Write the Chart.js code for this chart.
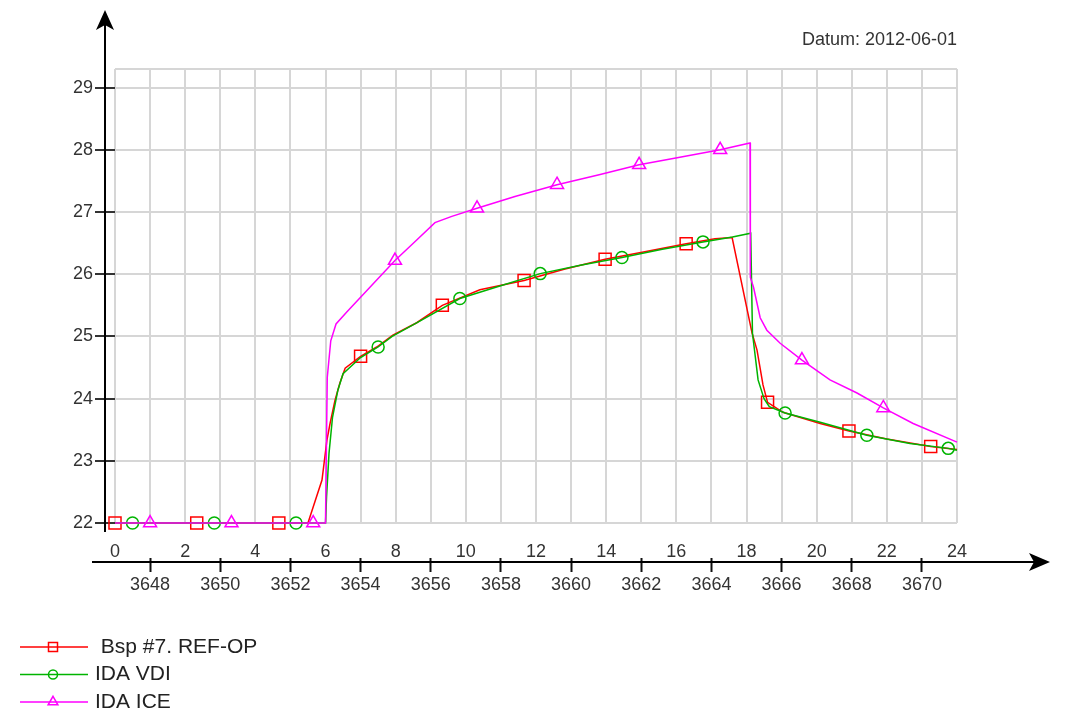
<!DOCTYPE html>
<html>
<head>
<meta charset="utf-8">
<title>Datum 2012-06-01</title>
<script src="https://cdn.jsdelivr.net/npm/chart.js@4.4.1/dist/chart.umd.min.js"></script>
<style>
  html, body { margin: 0; padding: 0; background: #fff; }
  #wrap { width: 1079px; height: 713px; }
</style>
</head>
<body>
<div id="wrap"><canvas id="chart" width="1079" height="713"></canvas></div>
<script>
// hour of day -> room temperature (degC)
const refHours = [0, 2.33, 4.67, 5.5, 5.9, 6.04, 6.13, 6.27, 6.41, 6.56, 7.0, 7.46, 7.92, 8.6, 9.33, 10.4, 11.66, 12.8, 13.97, 15.1, 16.28, 17.1, 17.59, 18.16, 18.3, 18.47, 18.6, 19.04, 20.1, 20.92, 22.0, 23.25, 24];
const refTemps = [22, 22, 22, 22, 22.69, 23.33, 23.6, 23.97, 24.25, 24.49, 24.68, 24.83, 25.02, 25.22, 25.5, 25.75, 25.9, 26.08, 26.24, 26.36, 26.49, 26.57, 26.59, 25.05, 24.78, 24.22, 23.94, 23.78, 23.6, 23.48, 23.35, 23.23, 23.18];
const refMarks = [0, 2.33, 4.67, 7.0, 9.33, 11.66, 13.97, 16.28, 18.6, 20.92, 23.25];

const vdiHours = [0, 0.5, 2.83, 5.16, 6.0, 6.03, 6.1, 6.2, 6.35, 6.5, 7.0, 7.5, 7.9, 8.7, 9.83, 10.9, 12.12, 13.3, 14.45, 15.6, 16.76, 17.6, 18.12, 18.17, 18.33, 18.5, 18.65, 19.1, 20.1, 21.43, 22.66, 23.75, 24];
const vdiTemps = [22, 22, 22, 22, 22, 22.42, 23.12, 23.7, 24.13, 24.4, 24.66, 24.83, 25.0, 25.25, 25.61, 25.8, 26.01, 26.15, 26.27, 26.4, 26.52, 26.6, 26.66, 25.05, 24.3, 24.0, 23.87, 23.77, 23.62, 23.41, 23.28, 23.2, 23.17];
const vdiMarks = [0.5, 2.83, 5.16, 7.5, 9.83, 12.12, 14.45, 16.76, 19.1, 21.43, 23.75];

const iceHours = [0, 1.0, 3.32, 5.65, 6.0, 6.05, 6.15, 6.3, 6.6, 7.18, 7.98, 8.6, 9.12, 9.6, 10.32, 11.4, 12.6, 13.8, 14.94, 16.1, 17.25, 18.1, 18.11, 18.2, 18.39, 18.58, 18.96, 19.58, 20.38, 21.15, 21.9, 22.75, 24];
const iceTemps = [22, 22, 22, 22, 22, 24.34, 24.93, 25.2, 25.39, 25.74, 26.22, 26.55, 26.83, 26.93, 27.06, 27.25, 27.44, 27.6, 27.76, 27.88, 28.0, 28.11, 25.95, 25.79, 25.3, 25.1, 24.89, 24.62, 24.3, 24.09, 23.85, 23.6, 23.3];
const iceMarks = [1.0, 3.32, 5.65, 7.98, 10.32, 12.6, 14.94, 17.25, 19.58, 21.9];

const seriesNames = [' Bsp #7. REF-OP', 'IDA VDI', 'IDA ICE'];
const yTicks = [22, 23, 24, 25, 26, 27, 28, 29];
const dayLabels = [0, 2, 4, 6, 8, 10, 12, 14, 16, 18, 20, 22, 24];
const yearHourLabels = [3648, 3650, 3652, 3654, 3656, 3658, 3660, 3662, 3664, 3666, 3668, 3670];
const dateText = 'Datum: 2012-06-01';

const gridColor = '#d6d6d6';
const textColor = '#333';
const font = 'Liberation Sans, Arial, sans-serif';

function toPoints(hours, temps) {
    return hours.map((h, i) => ({ x: h, y: temps[i] }));
}

function makeSeries(label, hours, temps, marks, color, style, radius, order) {
    return {
        label: label,
        data: toPoints(hours, temps),
        borderColor: color,
        backgroundColor: 'rgba(0,0,0,0)',
        borderWidth: 1.5,
        tension: 0,
        pointStyle: style,
        pointRadius: ctx => marks.includes(ctx.raw.x) ? radius : 0,
        pointHoverRadius: ctx => marks.includes(ctx.raw.x) ? radius : 0,
        pointBorderWidth: 1.5,
        pointBorderColor: color,
        pointBackgroundColor: 'rgba(0,0,0,0)',
        clip: false,
        order: order,
        legendRadius: radius * 0.75,
    };
}

// axes arrows, top border of the grid and the legend at bottom left
const plotDecor = {
    id: 'plotDecor',
    beforeDatasetsDraw(chart) {
        const { ctx, chartArea: a } = chart;
        ctx.save();
        ctx.strokeStyle = gridColor;
        ctx.lineWidth = 2;
        ctx.beginPath();
        ctx.moveTo(a.left, a.top);
        ctx.lineTo(a.right, a.top);
        ctx.stroke();
        ctx.restore();
    },
    afterDraw(chart) {
        const { ctx, chartArea: a, scales } = chart;
        ctx.save();
        ctx.strokeStyle = '#000';
        ctx.fillStyle = '#000';
        ctx.lineWidth = 2;

        // y axis
        const ax = a.left - 10;
        ctx.beginPath();
        ctx.moveTo(ax, 20);
        ctx.lineTo(ax, a.bottom + 9);
        ctx.stroke();
        ctx.beginPath();
        ctx.moveTo(ax, 10);
        ctx.lineTo(ax - 9, 30);
        ctx.lineTo(ax, 25);
        ctx.lineTo(ax + 9, 30);
        ctx.closePath();
        ctx.fill();

        // x axis
        const ay = scales.x2.top + 4;
        ctx.beginPath();
        ctx.moveTo(92, ay);
        ctx.lineTo(1040, ay);
        ctx.stroke();
        ctx.beginPath();
        ctx.moveTo(1050, ay);
        ctx.lineTo(1029, ay - 9);
        ctx.lineTo(1034, ay);
        ctx.lineTo(1029, ay + 9);
        ctx.closePath();
        ctx.fill();

        // legend
        ctx.font = '21px ' + font;
        ctx.textBaseline = 'middle';
        chart.data.datasets.forEach((ds, i) => {
            const y = 647 + i * 27.5;
            ctx.strokeStyle = ds.borderColor;
            ctx.lineWidth = 1.5;
            ctx.beginPath();
            ctx.moveTo(20, y);
            ctx.lineTo(88, y);
            ctx.stroke();
            drawMarker(ctx, ds.pointStyle, 53, y, ds.legendRadius);
            ctx.fillStyle = '#222';
            ctx.fillText(ds.label, 95, y);
        });
        ctx.restore();
    }
};

function drawMarker(ctx, style, x, y, r) {
    ctx.beginPath();
    if (style === 'rect') {
        const s = r * Math.SQRT1_2;
        ctx.rect(x - s, y - s, 2 * s, 2 * s);
    } else if (style === 'circle') {
        ctx.arc(x, y, r, 0, Math.PI * 2);
    } else {
        ctx.moveTo(x, y - r);
        ctx.lineTo(x + r * 0.866, y + r * 0.5);
        ctx.lineTo(x - r * 0.866, y + r * 0.5);
        ctx.closePath();
    }
    ctx.stroke();
}

const ctx = document.getElementById('chart').getContext('2d');
new Chart(ctx, {
    type: 'line',
    data: {
        datasets: [
            makeSeries(seriesNames[0], refHours, refTemps, refMarks, '#ff0000', 'rect', 8.5, 3),
            makeSeries(seriesNames[1], vdiHours, vdiTemps, vdiMarks, '#00b400', 'circle', 6, 2),
            makeSeries(seriesNames[2], iceHours, iceTemps, iceMarks, '#ff00ff', 'triangle', 7.5, 1),
        ],
    },
    options: {
        responsive: false,
        animation: false,
        events: [],
        layout: { padding: { left: 0, right: 122, top: 0, bottom: 111 } },
        plugins: {
            legend: { display: false },
            tooltip: { enabled: false },
            title: {
                display: true,
                text: dateText,
                align: 'end',
                color: textColor,
                font: { family: font, size: 18, weight: 'normal' },
                padding: { top: 29, bottom: 18.4 },
            },
        },
        scales: {
            x: {
                type: 'linear',
                position: 'bottom',
                min: 0,
                max: 24,
                ticks: {
                    stepSize: 1,
                    autoSkip: false,
                    maxRotation: 0,
                    padding: 18,
                    color: textColor,
                    font: { family: font, size: 18 },
                    callback: v => dayLabels.includes(v) ? String(v) : '',
                },
                grid: { color: gridColor, lineWidth: 2, drawTicks: false },
                border: { display: false },
                afterFit: scale => { scale.height = 35; },
            },
            x2: {
                type: 'linear',
                position: 'bottom',
                min: 3647,
                max: 3671,
                afterBuildTicks: scale => { scale.ticks = yearHourLabels.map(v => ({ value: v })); },
                ticks: {
                    autoSkip: false,
                    maxRotation: 0,
                    padding: 2,
                    color: textColor,
                    font: { family: font, size: 18 },
                    callback: v => String(v),
                },
                grid: { drawOnChartArea: false, drawTicks: true, tickLength: 14, tickColor: '#111', tickWidth: 2, color: '#111' },
                border: { display: false },
                afterFit: scale => { scale.height = 44; },
            },
            y: {
                type: 'linear',
                min: 22,
                max: 29.3,
                afterBuildTicks: scale => { scale.ticks = yTicks.map(v => ({ value: v })); },
                ticks: {
                    padding: 2,
                    color: textColor,
                    font: { family: font, size: 18 },
                    callback: v => String(v),
                },
                grid: { color: gridColor, lineWidth: 2, tickLength: 20, tickColor: '#333', tickWidth: 2 },
                border: { display: false },
                afterFit: scale => { scale.width = 115; },
            },
        },
    },
    plugins: [plotDecor],
});
</script>
</body>
</html>
